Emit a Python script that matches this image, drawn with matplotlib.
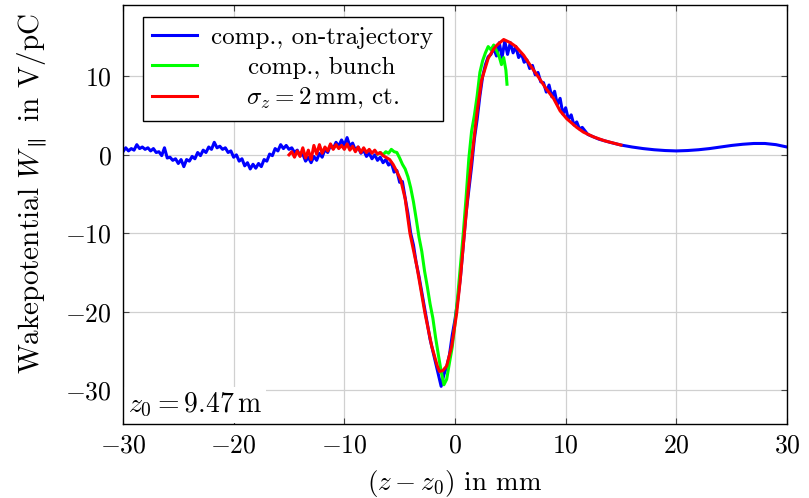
import numpy as np
import matplotlib
matplotlib.use("Agg")
import matplotlib.pyplot as plt

plt.rcParams['font.family'] = 'serif'
plt.rcParams['font.serif'] = ['cmr10', 'DejaVu Serif']
plt.rcParams['mathtext.fontset'] = 'cm'
plt.rcParams['axes.formatter.use_mathtext'] = True

# ---------------- data ----------------
# blue, sampled every 0.25 mm from -30 to -6.5 mm
blue_left_w = [0.4, 0.9, 0.5, 0.8, 0.6, 1.3, 0.8, 1.0, 0.7, 0.9,
               0.5, 0.8, 0.3, 0.4, -0.1, 0.9, -0.4, -0.3, -0.7, -0.5,
               -1.1, -0.6, -1.5, -0.6, -0.8, -0.2, -0.5, 0.3, -0.1, 0.6,
               0.3, 1.0, 0.7, 1.6, 0.9, 1.1, 0.7, 0.9, 0.3, 0.5,
               -0.3, 0.0, -0.8, -0.5, -1.4, -1.0, -1.8, -1.2, -1.7, -1.1,
               -1.5, -0.6, -0.8, 0.1, -0.1, 0.8, 0.5, 1.3, 0.8, 1.2,
               0.7, 0.9, 0.3, 0.6, -0.1, 0.1, -0.8, -0.3, -1.0, -0.2,
               -0.7, 0.2, -0.3, 0.7, 0.3, 1.2, 0.8, 1.6, 1.1, 1.9,
               1.2, 2.2, 1.1, 1.5, 0.6, 1.0, 0.2, 0.6, -0.2, 0.2,
               -0.5, 0.0, -0.7, -0.3, -1.0]
blue_left_z = np.linspace(-30, -6.5, len(blue_left_w))

blue_right_z = [-6.25, -6.0, -5.75, -5.5, -5.25, -5.0, -4.75, -4.5, -4.25, -4.0,
                -3.75, -3.5, -3.25, -3.0, -2.75, -2.5, -2.25, -2.0, -1.75, -1.5,
                -1.25, -1.0, -0.75, -0.5, -0.25, 0.0, 0.25, 0.5, 0.75, 1.0,
                1.25, 1.5, 1.75, 2.0, 2.25, 2.5, 2.75, 3.0, 3.25, 3.5,
                3.75, 4.0, 4.25, 4.5, 4.75, 5.0, 5.25, 5.5, 5.75, 6.0,
                6.25, 6.5, 6.75, 7.0, 7.25, 7.5, 7.75, 8.0, 8.25, 8.5,
                8.75, 9.0, 9.25, 9.5, 9.75, 10.0, 10.25, 10.5, 10.75, 11.0,
                11.25, 11.5, 12.0, 13.0, 14.0, 15.0, 16.0, 17.0, 18.0, 19.0,
                20.0, 21.0, 22.0, 23.0, 24.0, 25.0, 26.0, 27.0, 28.0, 29.0, 30.0]
blue_right_w = [-0.6, -1.3, -1.0, -2.2, -2.0, -3.5, -3.4, -5.5, -7.5, -10.0,
                -11.5, -13.8, -15.5, -17.5, -19.5, -21.5, -23.5, -25.0, -26.5, -28.0,
                -29.5, -28.0, -27.0, -25.5, -23.0, -21.0, -18.5, -15.5, -11.5, -7.5,
                -4.5, -1.5, 2.0, 4.5, 7.5, 10.0, 11.5, 12.5, 12.8, 13.6,
                12.6, 14.3, 12.4, 14.5, 12.8, 14.3, 13.0, 13.8, 12.4, 12.9,
                11.8, 12.1, 11.0, 11.4, 10.2, 10.5, 9.3, 9.2, 8.0, 8.9,
                7.4, 8.1, 6.4, 7.2, 5.2, 6.0, 4.5, 5.1, 3.8, 4.2,
                3.3, 3.5, 2.6, 2.0, 1.6, 1.25, 1.0, 0.8, 0.65, 0.55,
                0.5, 0.55, 0.65, 0.8, 1.0, 1.2, 1.35, 1.45, 1.45, 1.3, 1.0]

# green (computed, bunch)
green_z = [-7.0, -6.75, -6.5, -6.25, -6.0, -5.75, -5.5, -5.25, -5.0, -4.75,
           -4.5, -4.25, -4.0, -3.75, -3.5, -3.25, -3.0, -2.75, -2.5, -2.25,
           -2.0, -1.75, -1.5, -1.25, -1.0, -0.75, -0.5, -0.25, 0.0, 0.25,
           0.5, 0.75, 1.0, 1.25, 1.5, 1.75, 2.0, 2.25, 2.5, 2.75,
           3.0, 3.25, 3.5, 3.75, 4.0, 4.2, 4.4, 4.6, 4.7]
green_w = [0.1, 0.3, 0.0, 0.4, 0.2, 0.7, 0.4, 0.3, -0.4, -1.2,
           -1.8, -2.8, -4.2, -6.0, -8.2, -10.5, -12.3, -14.8, -16.8, -19.0,
           -20.8, -23.3, -25.5, -27.6, -29.3, -28.6, -26.5, -24.5, -21.5, -18.0,
           -14.0, -10.0, -5.5, -0.5, 3.0, 5.0, 7.5, 10.5, 12.0, 13.0,
           13.8, 13.4, 14.0, 13.3, 12.5, 11.5, 12.4, 10.8, 9.0]

# red (sigma_z = 2 mm, ct.), sampled every 0.25 mm from -15 to -6.25 mm
red_left_w = [0.0, 0.4, -0.3, 0.5, -0.2, 0.9, -0.4, 0.6, -0.6, 1.2,
              0.1, 1.3, 0.2, 1.0, 0.5, 1.4, 0.7, 1.3, 0.8, 1.2,
              0.7, 1.4, 0.6, 1.1, 0.4, 1.0, 0.3, 0.9, 0.3, 0.7,
              0.2, 0.6, 0.1, 0.3, -0.1, -0.3]
red_left_z = np.linspace(-15, -6.25, len(red_left_w))
red_right_z = [-5.9, -5.6, -5.3, -4.9, -4.5, -4.07, -3.46, -2.71, -2.1, -1.6,
               -1.4, -1.1, -0.75, -0.3, 0.15, 0.45, 0.85, 1.2, 1.55, 2.0,
               2.4, 3.0, 3.5, 3.8, 4.4, 5.0, 5.5, 6.2, 7.0, 7.5,
               8.2, 8.9, 9.5, 10.1, 11.0, 11.6, 12.5, 13.5, 15.0]
red_right_w = [-0.6, -1.2, -2.0, -3.2, -5.6, -10.0, -14.1, -20.2, -24.4, -26.9,
               -27.6, -27.5, -26.9, -24.4, -20.2, -16.3, -10.0, -4.5, 0.0, 5.5,
               9.5, 12.3, 13.5, 14.0, 14.7, 14.3, 13.8, 12.7, 11.0, 10.0,
               8.5, 7.2, 5.6, 4.6, 3.5, 2.9, 2.3, 1.8, 1.25]

blue_z = np.concatenate([blue_left_z, blue_right_z])
blue_w = np.concatenate([blue_left_w, blue_right_w])
red_z = np.concatenate([red_left_z, red_right_z])
red_w = np.concatenate([red_left_w, red_right_w])

labels = ['comp., on-trajectory', 'comp., bunch', r'$\sigma_z = 2\,\mathrm{mm}$, ct.']
x_ticks = [-30, -20, -10, 0, 10, 20, 30]
y_ticks = [-30, -20, -10, 0, 10]

# ---------------- figure ----------------
fig = plt.figure(figsize=(8.09, 4.98), dpi=100)
ax = fig.add_axes([0.152, 0.1486, 0.8208, 0.8414])

lw = 2.2
ax.plot(blue_z, blue_w, color='#0000ff', lw=lw, label=labels[0], zorder=3)
ax.plot(green_z, green_w, color='#00ff00', lw=lw, label=labels[1], zorder=4)
ax.plot(red_z, red_w, color='#ff0000', lw=lw, label=labels[2], zorder=5)

ax.set_xlim(-30, 30)
ax.set_ylim(-34.3, 19.1)
ax.set_xticks(x_ticks)
ax.set_yticks(y_ticks)
ax.grid(True, color='#d0d0d0', lw=0.9)
ax.set_axisbelow(True)
ax.tick_params(direction='in', length=4, width=0.8, color='#444444',
               top=True, right=True, labelsize=18.5)
ax.tick_params(axis='y', pad=8)
ax.tick_params(axis='x', pad=7)
for s in ax.spines.values():
    s.set_linewidth(1.0)
    s.set_color('black')
    s.set_zorder(10)

ax.set_xlabel(r'$(z-z_0)$ in mm', fontsize=19.5)
ax.xaxis.set_label_coords(0.5, -0.105)
ax.set_ylabel(r'Wakepotential $W_\parallel$ in V/pC', fontsize=21)
ax.yaxis.set_label_coords(-0.112, 0.55)

ax.text(0.008, 0.012, r'$z_0 = 9.47\,\mathrm{m}$', transform=ax.transAxes,
        fontsize=20, ha='left', va='bottom', zorder=6,
        bbox=dict(facecolor='white', edgecolor='none', pad=3))

leg = ax.legend(loc='upper left', bbox_to_anchor=(0.030, 0.971), borderaxespad=0,
                fancybox=False, framealpha=1, edgecolor='black', fontsize=18,
                handlelength=1.8, handletextpad=0.55, borderpad=0.38, labelspacing=0.28)
leg.get_frame().set_linewidth(1.0)
leg.set_zorder(7)

# center legend labels within the column (as pgfplots does)
fig.canvas.draw()
renderer = fig.canvas.get_renderer()
widths = [t.get_window_extent(renderer).width for t in leg.get_texts()]
maxw = max(widths)
dpicor = renderer.points_to_pixels(1.0)
cols = leg._legend_handle_box.get_children()
items = [it for c in cols for it in c.get_children()]
for it, w in zip(items, widths):
    it.sep = it.sep + (maxw - w) / 2.0 / dpicor

fig.savefig('out.png', dpi=100)
